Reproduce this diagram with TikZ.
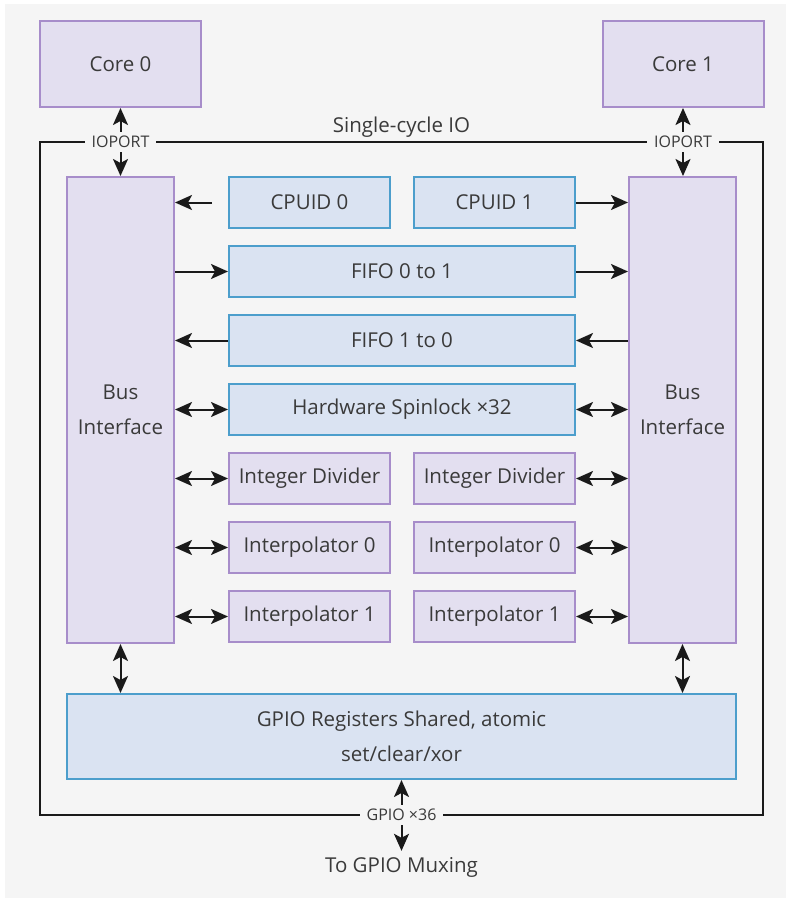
\documentclass[tikz,border=0pt]{standalone}
\usepackage{fontspec}
\setmainfont{Open Sans}
\usetikzlibrary{arrows.meta}
\definecolor{bgcol}{RGB}{245,245,245}
\definecolor{textcol}{RGB}{58,58,58}
\definecolor{purpleline}{RGB}{167,141,202}
\definecolor{purplefill}{RGB}{227,223,240}
\definecolor{blueline}{RGB}{76,158,204}
\definecolor{bluefill}{RGB}{218,227,242}
\definecolor{framecol}{RGB}{26,26,26}
\tikzset{
  unitbox/.style={line width=2pt, text=textcol, inner sep=0pt,
    font=\fontsize{20.5}{35}\selectfont, align=center},
  purplebox/.style={unitbox, draw=purpleline, fill=purplefill},
  bluebox/.style={unitbox, draw=blueline, fill=bluefill},
  portlabel/.style={fill=bgcol, text=textcol, inner xsep=7pt, inner ysep=4pt,
    font=\fontsize{16}{19}\selectfont},
  plainlabel/.style={text=textcol, inner sep=2pt, font=\fontsize{20.5}{24}\selectfont},
  link/.style={line width=2pt, draw=framecol},
}
\begin{document}
\begin{tikzpicture}[x=1pt,y=-1pt,>={Stealth[length=17pt,width=15pt,inset=4pt]}]
  \useasboundingbox (0,0) rectangle (787,899);
  \fill[bgcol] (5,4) rectangle (786,898);
%%
  % Node: Single_cycle_IO frame
  \node[draw=framecol, line width=2.5pt, minimum width=723pt, minimum height=673pt,
    inner sep=0pt] (sio) at (401.5,478.5) {};
  \node[plainlabel, anchor=south] (siolabel) at (401.5,140) {Single-cycle IO};
  % Node: Core_0
  \node[purplebox, minimum width=161pt, minimum height=86pt] (core0) at (120.5,64) {Core 0};
  % Node: Core_1
  \node[purplebox, minimum width=161pt, minimum height=86pt] (core1) at (683,64) {Core 1};
  % Node: Bus_Interface_0
  \node[purplebox, minimum width=107pt, minimum height=466pt] (bus0) at (120.5,410) {Bus\\Interface};
  % Node: Bus_Interface_1
  \node[purplebox, minimum width=107pt, minimum height=466pt] (bus1) at (682.5,410) {Bus\\Interface};
  % Node: CPUID_0
  \node[bluebox, minimum width=161pt, minimum height=51pt] (cpuid0) at (309.5,202.5) {CPUID 0};
  % Node: CPUID_1
  \node[bluebox, minimum width=161pt, minimum height=51pt] (cpuid1) at (494.5,202.5) {CPUID 1};
  % Node: FIFO_0_to_1
  \node[bluebox, minimum width=346pt, minimum height=51pt] (fifo01) at (402,271.5) {FIFO 0 to 1};
  % Node: FIFO_1_to_0
  \node[bluebox, minimum width=346pt, minimum height=51pt] (fifo10) at (402,340.5) {FIFO 1 to 0};
  % Node: Spinlock
  \node[bluebox, minimum width=346pt, minimum height=51pt] (spin) at (402,409.5) {Hardware Spinlock ×32};
  % Node: Divider_0 / Divider_1
  \node[purplebox, minimum width=161pt, minimum height=51pt] (div0) at (309.5,478.5) {Integer Divider};
  \node[purplebox, minimum width=161pt, minimum height=51pt] (div1) at (494.5,478.5) {Integer Divider};
  % Node: Interp0_0 / Interp0_1
  \node[purplebox, minimum width=161pt, minimum height=51pt] (interpA0) at (309.5,547.5) {Interpolator 0};
  \node[purplebox, minimum width=161pt, minimum height=51pt] (interpA1) at (494.5,547.5) {Interpolator 0};
  % Node: Interp1_0 / Interp1_1
  \node[purplebox, minimum width=161pt, minimum height=51pt] (interpB0) at (309.5,616.5) {Interpolator 1};
  \node[purplebox, minimum width=161pt, minimum height=51pt] (interpB1) at (494.5,616.5) {Interpolator 1};
  % Node: GPIO_Registers
  \node[bluebox, minimum width=669pt, minimum height=85pt] (gpio) at (401.5,736.5) {GPIO Registers Shared, atomic\\set/clear/xor};
  % Node: GPIO_Muxing
  \node[plainlabel] (mux) at (401.5,867) {To GPIO Muxing};
%%
  % Edge: Core_0 <-> Bus_Interface_0
  \draw[link, <->] (core0.south) -- (bus0.north);
  % Edge: Core_1 <-> Bus_Interface_1
  \draw[link, <->] (core1.south) -- (core1.south |- bus1.north);
  % Edge: CPUID_0 -> Bus_Interface_0
  \draw[link, ->, shorten <=16pt] (cpuid0.west) -- (bus0.east |- cpuid0.west);
  % Edge: CPUID_1 -> Bus_Interface_1
  \draw[link, ->] (cpuid1.east) -- (bus1.west |- cpuid1.east);
  % Edge: Bus_Interface_0 -> FIFO_0_to_1 -> Bus_Interface_1
  \draw[link, ->] (bus0.east |- fifo01.west) -- (fifo01.west);
  \draw[link, ->] (fifo01.east) -- (bus1.west |- fifo01.east);
  % Edge: Bus_Interface_1 -> FIFO_1_to_0 -> Bus_Interface_0
  \draw[link, ->] (bus1.west |- fifo10.east) -- (fifo10.east);
  \draw[link, ->] (fifo10.west) -- (bus0.east |- fifo10.west);
  % Edge: Bus_Interface <-> shared blocks
  \foreach \lft/\rgt in {spin/spin, div0/div1, interpA0/interpA1, interpB0/interpB1} {
    \draw[link, <->] (bus0.east |- \lft.west) -- (\lft.west);
    \draw[link, <->] (\rgt.east) -- (bus1.west |- \rgt.east);
  }
  % Edge: Bus_Interface <-> GPIO_Registers
  \draw[link, <->] (bus0.south) -- (bus0.south |- gpio.north);
  \draw[link, <->] (bus1.south) -- (bus1.south |- gpio.north);
  % Edge: GPIO_Registers <-> GPIO_Muxing
  \draw[link, <->, shorten >=4pt] (gpio.south) -- (mux.north);
%%
  % Labels on the frame
  \node[portlabel] (ioport0) at (120.5,142) {IOPORT};
  \node[portlabel] (ioport1) at (683,142) {IOPORT};
  \node[portlabel] (gpio36) at (401.5,815) {GPIO ×36};
%
\end{tikzpicture}
\end{document}
